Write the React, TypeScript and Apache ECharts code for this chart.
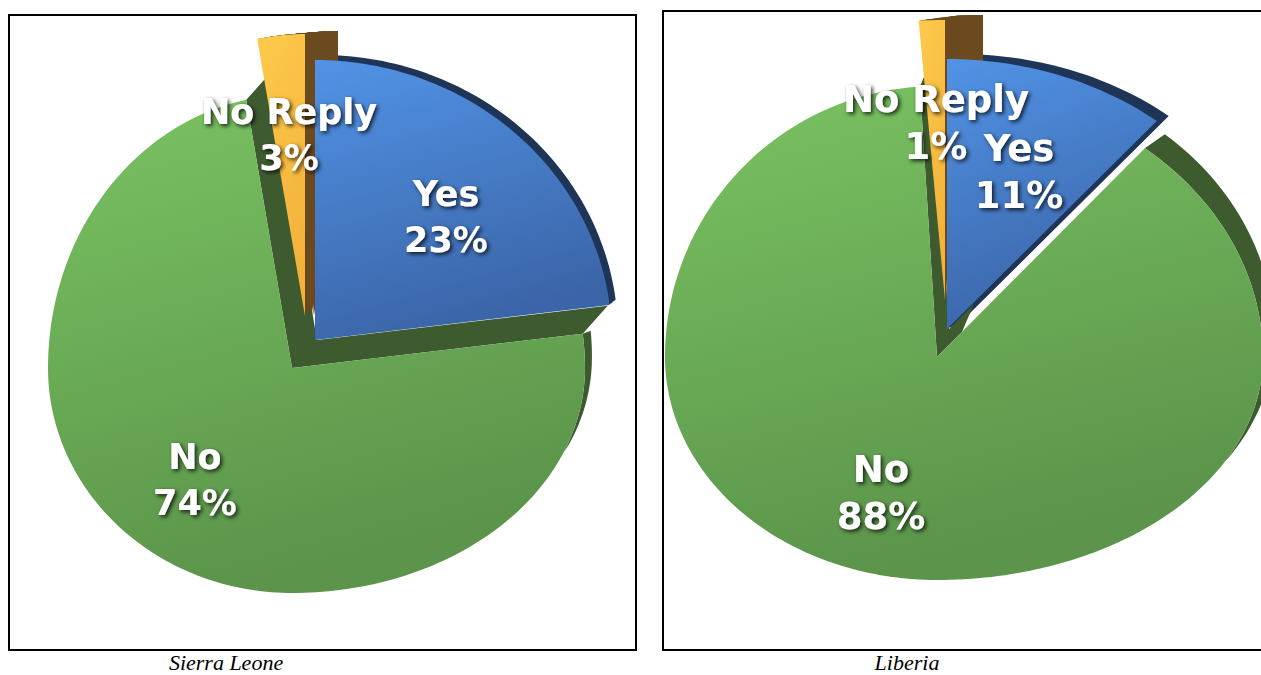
import { useEffect, useRef } from "react";
import * as echarts from "echarts";

// ---------- data ----------
const categories = ["Yes", "No", "No Reply"];
const sierraLeoneValues = [23, 74, 3];
const liberiaValues = [11, 88, 1];
const captions = ["Sierra Leone", "Liberia"];

// ---------- layout / style ----------
type Slice = {
  apex: [number, number];
  rxL: number;
  rxR: number;
  ryT: number;
  ryB: number;
  depth: [number, number];
  wall: "sweep" | "edges";
  firstFrac?: number;
  arcDepth?: [number, number];
  arcStop?: number;
  label: [number, number];
};

const faceColors = [
  ["#5193e6", "#3b65a8"],
  ["#7ac362", "#5b944a"],
  ["#fdca4c", "#f3b239"],
];
const wallColors = ["#1e3557", "#3e5b30", "#6a4a1e"];

const leftLayout: Slice[] = [
  { apex: [315, 340], rxL: 297, rxR: 297, ryT: 280, ryB: 280, depth: [6, -5], wall: "sweep", label: [446, 217] },
  { apex: [292, 368], rxL: 244, rxR: 293, ryT: 273, ryB: 225, depth: [25, -28], wall: "edges", firstFrac: 1, arcDepth: [8, -3], arcStop: -22, label: [195, 480] },
  { apex: [305, 316], rxL: 255, rxR: 290, ryT: 282, ryB: 282, depth: [33, -3], wall: "sweep", label: [289, 135] },
];
const rightLayout: Slice[] = [
  { apex: [947, 329], rxL: 329, rxR: 329, ryT: 270, ryB: 270, depth: [12, -5], wall: "sweep", label: [1019, 172] },
  { apex: [937, 357], rxL: 272, rxR: 326, ryT: 271, ryB: 223, depth: [12, -28], wall: "edges", firstFrac: 0.12, arcDepth: [20, -14], arcStop: -28, label: [881, 493] },
  { apex: [945, 300], rxL: 420, rxR: 340, ryT: 280, ryB: 280, depth: [38, -5], wall: "sweep", label: [936, 123] },
];
const labelFonts = [
  { size: 35, lineHeight: 46 },
  { size: 37, lineHeight: 47 },
];

// ---------- geometry helpers ----------
function pt(s: Slice, deg: number): [number, number] {
  const t = (deg * Math.PI) / 180;
  const c = Math.cos(t);
  const sn = Math.sin(t);
  const rx = c >= 0 ? s.rxR : s.rxL;
  const ry = sn >= 0 ? s.ryT : s.ryB;
  return [s.apex[0] + rx * c, s.apex[1] - ry * sn];
}
function arcAngles(a0: number, a1: number): number[] {
  const n = Math.max(2, Math.ceil(Math.abs(a0 - a1) / 1.2));
  const out: number[] = [];
  for (let k = 0; k <= n; k++) out.push(a0 + ((a1 - a0) * k) / n);
  return out;
}
function arc(s: Slice, a0: number, a1: number): [number, number][] {
  return arcAngles(a0, a1).map((a) => pt(s, a));
}
function sliceAngles(values: number[], i: number): [number, number] {
  const total = values.reduce((a, b) => a + b, 0);
  let before = 0;
  for (let k = 0; k < i; k++) before += values[k];
  const a0 = 90 - (before / total) * 360;
  const a1 = a0 - (values[i] / total) * 360;
  return [a0, a1];
}
const shift = (p: number[], d: number[], f = 1): [number, number] => [p[0] + d[0] * f, p[1] + d[1] * f];

function wallSeries(values: number[], layout: Slice[]) {
  return {
    type: "custom",
    coordinateSystem: "none",
    silent: true,
    z: 1,
    data: values.map((v, i) => ({ name: categories[i], value: [v, i] })),
    renderItem: (params: any) => {
      const i = params.dataIndex;
      const s = layout[i];
      const [a0, a1] = sliceAngles(values, i);
      const face: [number, number][] = [s.apex, ...arc(s, a0, a1)];
      const fill = wallColors[i];
      const children: any[] = [];
      if (s.wall === "sweep") {
        const N = Math.max(1, Math.ceil(Math.hypot(s.depth[0], s.depth[1]) / 1.5));
        for (let k = 1; k <= N; k++) {
          children.push({
            type: "polygon",
            shape: { points: face.map((p) => shift(p, s.depth, k / N)) },
            style: { fill },
          });
        }
      } else {
        const A = s.apex;
        const L = pt(s, a1);
        const F = pt(s, a0);
        const ff = s.firstFrac ?? 1;
        const Fp: [number, number] = [A[0] + (F[0] - A[0]) * ff, A[1] + (F[1] - A[1]) * ff];
        children.push({
          type: "polygon",
          shape: { points: [A, L, shift(L, s.depth), shift(A, s.depth), shift(Fp, s.depth), Fp] },
          style: { fill },
        });
        if (s.arcDepth && s.arcStop !== undefined) {
          const stop = s.arcStop;
          const angs = arcAngles(a0, stop);
          const front = angs.map((a) => pt(s, a));
          const back = angs
            .map((a) => {
              const f = Math.pow(Math.max(0, (a - stop) / (a0 - stop)), 0.6);
              return shift(pt(s, a), s.arcDepth!, f);
            })
            .reverse();
          children.push({ type: "polygon", shape: { points: [...front, ...back] }, style: { fill } });
        }
      }
      return { type: "group", children };
    },
  };
}

function faceSeries(values: number[], layout: Slice[]) {
  return {
    type: "custom",
    coordinateSystem: "none",
    silent: true,
    z: 2,
    data: values.map((v, i) => ({ name: categories[i], value: [v, i] })),
    renderItem: (params: any) => {
      const i = params.dataIndex;
      const s = layout[i];
      const [a0, a1] = sliceAngles(values, i);
      const face: [number, number][] = [s.apex, ...arc(s, a0, a1)];
      return {
        type: "polygon",
        shape: { points: face },
        style: {
          fill: {
            type: "linear",
            x: 0,
            y: 0,
            x2: 0.3,
            y2: 1,
            colorStops: [
              { offset: 0, color: faceColors[i][0] },
              { offset: 1, color: faceColors[i][1] },
            ],
          },
        },
      };
    },
  };
}

function labelSeries(values: number[], layout: Slice[], font: { size: number; lineHeight: number }) {
  return {
    type: "custom",
    coordinateSystem: "none",
    silent: true,
    z: 3,
    data: values.map((v, i) => ({ name: categories[i], value: [v, i] })),
    renderItem: (params: any, api: any) => {
      const i = params.dataIndex;
      const s = layout[i];
      return {
        type: "text",
        x: s.label[0],
        y: s.label[1],
        style: {
          text: `${categories[i]}\n${api.value(0)}%`,
          font: `bold ${font.size}px "DejaVu Sans"`,
          fill: "#ffffff",
          align: "center",
          verticalAlign: "middle",
          lineHeight: font.lineHeight,
          textShadowColor: "rgba(0,0,0,0.8)",
          textShadowBlur: 4,
          textShadowOffsetX: 2,
          textShadowOffsetY: 2,
        },
      };
    },
  };
}

export default function App() {
  const ref = useRef<HTMLDivElement>(null);
  useEffect(() => {
    if (!ref.current) return;
    const chart = echarts.init(ref.current, null, { renderer: "svg" });
    chart.setOption({
      animation: false,
      backgroundColor: "#ffffff",
      graphic: [
        { type: "rect", z: 0, shape: { x: 9, y: 15, width: 627, height: 635 }, style: { fill: "none", stroke: "#000", lineWidth: 2 } },
        { type: "rect", z: 0, shape: { x: 663, y: 11, width: 640, height: 639 }, style: { fill: "none", stroke: "#000", lineWidth: 2 } },
        { type: "text", x: 226, y: 662, style: { text: captions[0], font: 'italic 22px "Liberation Serif"', fill: "#000", align: "center", verticalAlign: "middle" } },
        { type: "text", x: 907, y: 662, style: { text: captions[1], font: 'italic 22px "Liberation Serif"', fill: "#000", align: "center", verticalAlign: "middle" } },
      ],
      series: [
        wallSeries(sierraLeoneValues, leftLayout),
        faceSeries(sierraLeoneValues, leftLayout),
        labelSeries(sierraLeoneValues, leftLayout, labelFonts[0]),
        wallSeries(liberiaValues, rightLayout),
        faceSeries(liberiaValues, rightLayout),
        labelSeries(liberiaValues, rightLayout, labelFonts[1]),
      ],
    });
    return () => chart.dispose();
  }, []);
  return <div ref={ref} style={{ position: "absolute", left: 0, top: 0, width: 1261, height: 675 }} />;
}
